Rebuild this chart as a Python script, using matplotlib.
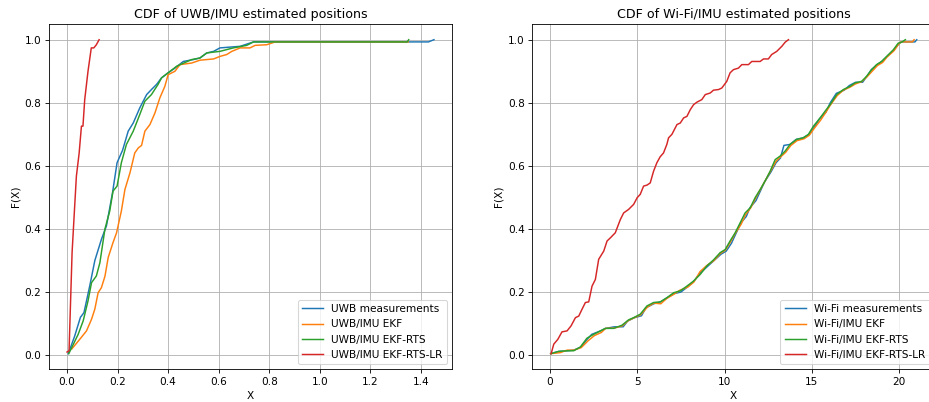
import matplotlib
matplotlib.use("Agg")
import matplotlib.pyplot as plt

# ---------------- UWB / IMU (left) ----------------
uwb_meas_x = [0.005, 0.03, 0.053, 0.067, 0.09, 0.11, 0.136, 0.156, 0.18, 0.198, 0.22, 0.242, 0.262,
              0.288, 0.315, 0.334, 0.354, 0.374, 0.40, 0.427, 0.46, 0.50, 0.526, 0.553, 0.58,
              0.605, 0.685, 0.738, 1.43, 1.452]
uwb_meas_F = [0.005, 0.06, 0.12, 0.135, 0.22, 0.30, 0.367, 0.41, 0.515, 0.61, 0.65, 0.71, 0.736,
              0.784, 0.826, 0.842, 0.858, 0.879, 0.895, 0.91, 0.931, 0.937, 0.942, 0.958, 0.963,
              0.974, 0.979, 0.993, 0.993, 1.0]

uwb_ekf_x = [0.019, 0.05, 0.077, 0.097, 0.11, 0.123, 0.136, 0.15, 0.163, 0.182, 0.196, 0.215, 0.229,
             0.249, 0.268, 0.282, 0.295, 0.308, 0.328, 0.348, 0.367, 0.387, 0.40, 0.427, 0.447,
             0.493, 0.526, 0.58, 0.605, 0.632, 0.652, 0.685, 0.724, 0.744, 0.79, 0.824, 1.35]
uwb_ekf_F = [0.02, 0.05, 0.077, 0.114, 0.146, 0.198, 0.214, 0.25, 0.31, 0.357, 0.388, 0.457, 0.525,
             0.578, 0.641, 0.657, 0.665, 0.71, 0.731, 0.768, 0.815, 0.852, 0.889, 0.90, 0.921,
             0.926, 0.935, 0.939, 0.947, 0.953, 0.963, 0.974, 0.974, 0.982, 0.984, 0.993, 0.993]

uwb_rts_x = [0.007, 0.044, 0.064, 0.083, 0.097, 0.116, 0.13, 0.15, 0.169, 0.182, 0.198, 0.215, 0.235,
             0.262, 0.288, 0.308, 0.334, 0.36, 0.374, 0.40, 0.434, 0.493, 0.526, 0.553, 0.605,
             0.658, 0.711, 0.738, 1.346, 1.352]
uwb_rts_F = [0.005, 0.066, 0.109, 0.172, 0.23, 0.251, 0.293, 0.40, 0.457, 0.52, 0.536, 0.61, 0.668,
             0.71, 0.763, 0.805, 0.826, 0.858, 0.879, 0.895, 0.916, 0.937, 0.942, 0.958, 0.963,
             0.974, 0.982, 0.993, 0.993, 1.0]

uwb_lr_x = [0.0, 0.008, 0.02, 0.028, 0.037, 0.048, 0.057, 0.063, 0.07, 0.083, 0.096, 0.106, 0.116, 0.127]
uwb_lr_F = [0.01, 0.014, 0.325, 0.44, 0.567, 0.641, 0.726, 0.726, 0.81, 0.90, 0.974, 0.974, 0.984, 1.0]

# ---------------- Wi-Fi / IMU (right) ----------------
wifi_rts_x = [0.08, 0.51, 0.99, 1.37, 1.75, 2.13, 2.51, 2.90, 3.18, 3.66, 4.13, 4.51, 4.80, 5.18,
              5.56, 5.94, 6.32, 6.70, 7.09, 7.47, 7.85, 8.23, 8.61, 8.99, 9.37, 9.75, 10.04,
              10.32, 10.61, 10.90, 11.18, 11.47, 11.75, 12.04, 12.32, 12.61, 12.90, 13.18, 13.47,
              13.75, 14.13, 14.51, 14.80, 15.09, 15.47, 15.75, 16.04, 16.42, 16.80, 17.18, 17.47,
              17.85, 18.13, 18.42, 18.70, 18.99, 19.28, 19.66, 19.94, 20.13, 20.35]
wifi_rts_F = [0.005, 0.012, 0.014, 0.014, 0.026, 0.054, 0.066, 0.077, 0.085, 0.085, 0.095, 0.112,
              0.119, 0.13, 0.156, 0.167, 0.169, 0.182, 0.198, 0.204, 0.219, 0.235, 0.256, 0.283,
              0.302, 0.325, 0.335, 0.362, 0.388, 0.42, 0.451, 0.467, 0.499, 0.525, 0.552, 0.583,
              0.62, 0.631, 0.647, 0.668, 0.684, 0.689, 0.70, 0.726, 0.752, 0.773, 0.794, 0.826,
              0.842, 0.852, 0.863, 0.868, 0.884, 0.905, 0.921, 0.931, 0.947, 0.968, 0.989, 0.992, 1.0]

wifi_meas_x = [0.05, 0.51, 0.99, 1.37, 1.80, 2.10, 2.40, 2.90, 3.20, 3.70, 4.20, 4.45, 4.85, 5.25,
               5.50, 5.95, 6.35, 6.65, 7.10, 7.50, 7.85, 8.25, 8.60, 9.00, 9.40, 9.80, 10.10,
               10.40, 10.65, 10.95, 11.25, 11.45, 11.80, 12.05, 12.30, 12.65, 12.95, 13.20, 13.40,
               13.75, 14.10, 14.50, 14.85, 15.10, 15.45, 15.80, 16.05, 16.40, 16.85, 17.15, 17.50,
               17.90, 18.15, 18.40, 18.75, 19.00, 19.30, 19.70, 19.95, 20.10, 20.90, 21.00]
wifi_meas_F = [0.005, 0.012, 0.014, 0.016, 0.026, 0.048, 0.066, 0.077, 0.085, 0.09, 0.09, 0.108,
               0.119, 0.125, 0.15, 0.163, 0.169, 0.18, 0.195, 0.2, 0.215, 0.235, 0.26, 0.28,
               0.30, 0.32, 0.33, 0.355, 0.385, 0.42, 0.44, 0.467, 0.49, 0.52, 0.55, 0.58,
               0.61, 0.625, 0.665, 0.668, 0.684, 0.689, 0.70, 0.72, 0.75, 0.77, 0.80, 0.83,
               0.84, 0.855, 0.865, 0.865, 0.884, 0.905, 0.921, 0.931, 0.947, 0.968, 0.985, 0.993, 0.993, 1.0]

wifi_ekf_x = [0.05, 0.60, 0.99, 1.37, 1.80, 2.20, 2.55, 2.95, 3.20, 3.70, 4.15, 4.50, 4.85, 5.20,
              5.60, 5.95, 6.35, 6.70, 7.10, 7.45, 7.90, 8.25, 8.60, 9.00, 9.40, 9.75, 10.05,
              10.35, 10.60, 10.95, 11.20, 11.50, 11.80, 12.05, 12.35, 12.60, 12.95, 13.20, 13.50,
              13.80, 14.15, 14.55, 14.85, 15.15, 15.50, 15.80, 16.05, 16.45, 16.80, 17.20, 17.50,
              17.85, 18.15, 18.45, 18.75, 19.05, 19.30, 19.70, 19.95, 20.10, 20.75, 20.85]
wifi_ekf_F = [0.005, 0.008, 0.016, 0.016, 0.024, 0.046, 0.062, 0.072, 0.085, 0.086, 0.093, 0.11,
              0.119, 0.128, 0.153, 0.165, 0.163, 0.18, 0.193, 0.206, 0.216, 0.232, 0.265, 0.285,
              0.300, 0.322, 0.333, 0.36, 0.385, 0.415, 0.445, 0.467, 0.50, 0.525, 0.555, 0.58,
              0.615, 0.628, 0.643, 0.665, 0.680, 0.686, 0.697, 0.72, 0.745, 0.77, 0.792, 0.823,
              0.84, 0.85, 0.86, 0.867, 0.882, 0.90, 0.918, 0.928, 0.945, 0.965, 0.985, 0.993, 0.993, 1.0]

wifi_lr_x = [0.08, 0.23, 0.46, 0.70, 0.99, 1.22, 1.47, 1.66, 1.85, 2.04, 2.23, 2.42, 2.61, 2.80, 3.09,
             3.28, 3.47, 3.75, 4.04, 4.23, 4.51, 4.80, 5.0, 5.18, 5.37, 5.56, 5.75, 5.94, 6.13,
             6.32, 6.51, 6.70, 6.80, 6.99, 7.28, 7.47, 7.66, 7.85, 8.04, 8.23, 8.42, 8.70, 8.90,
             9.18, 9.37, 9.66, 9.85, 10.13, 10.32, 10.51, 10.80, 10.99, 11.37, 11.56, 12.04, 12.23,
             12.51, 12.70, 12.99, 13.28, 13.47, 13.66]
wifi_lr_F = [0.005, 0.035, 0.05, 0.074, 0.077, 0.093, 0.119, 0.124, 0.146, 0.167, 0.169, 0.219, 0.24,
             0.304, 0.33, 0.362, 0.372, 0.388, 0.43, 0.451, 0.462, 0.478, 0.499, 0.51, 0.536, 0.539,
             0.546, 0.583, 0.61, 0.629, 0.641, 0.668, 0.689, 0.70, 0.731, 0.736, 0.752, 0.757, 0.778,
             0.794, 0.802, 0.81, 0.826, 0.831, 0.84, 0.842, 0.847, 0.868, 0.895, 0.905, 0.91, 0.921,
             0.921, 0.931, 0.931, 0.939, 0.939, 0.953, 0.963, 0.979, 0.992, 1.0]

uwb_labels = ["UWB measurements", "UWB/IMU EKF", "UWB/IMU EKF-RTS", "UWB/IMU EKF-RTS-LR"]
wifi_labels = ["Wi-Fi measurements", "Wi-Fi/IMU EKF", "Wi-Fi/IMU EKF-RTS", "Wi-Fi/IMU EKF-RTS-LR"]
colors = ["#1f77b4", "#ff7f0e", "#2ca02c", "#d62728"]

DPI = 76
fig = plt.figure(figsize=(929 / DPI, 402 / DPI), dpi=DPI)
ax1 = fig.add_axes([0.0524, 0.0813, 0.4345, 0.859])
ax2 = fig.add_axes([0.573, 0.0813, 0.4335, 0.859])

uwb_series = [(uwb_meas_x, uwb_meas_F), (uwb_ekf_x, uwb_ekf_F), (uwb_rts_x, uwb_rts_F), (uwb_lr_x, uwb_lr_F)]
wifi_series = [(wifi_meas_x, wifi_meas_F), (wifi_ekf_x, wifi_ekf_F), (wifi_rts_x, wifi_rts_F), (wifi_lr_x, wifi_lr_F)]

for (x, F), lab, c in zip(uwb_series, uwb_labels, colors):
    ax1.plot(x, F, color=c, label=lab, linewidth=1.4)
for (x, F), lab, c in zip(wifi_series, wifi_labels, colors):
    ax2.plot(x, F, color=c, label=lab, linewidth=1.4)

ax1.set_title("CDF of UWB/IMU estimated positions")
ax2.set_title("CDF of Wi-Fi/IMU estimated positions")
for ax in (ax1, ax2):
    ax.set_xlabel("X")
    ax.set_ylabel("F(X)")
    ax.grid(True)
    ax.legend(loc="lower right")

fig.savefig("out.png", dpi=DPI)
